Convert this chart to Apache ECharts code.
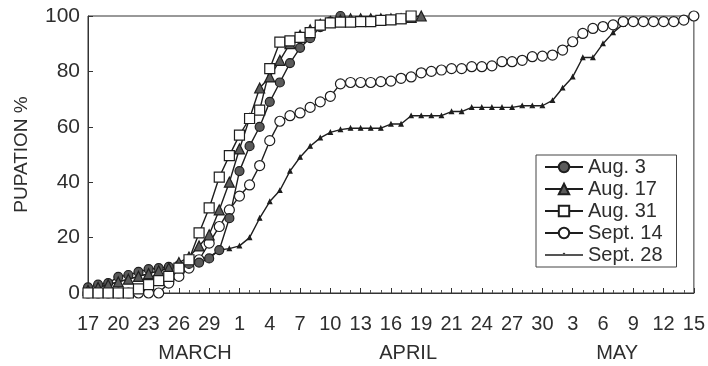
<!DOCTYPE html>
<html>
<head>
<meta charset="utf-8">
<script src="https://cdn.jsdelivr.net/npm/echarts@6/dist/echarts.min.js"></script>
<style>
  html, body { margin: 0; padding: 0; background: #fff; }
  #chart { width: 708px; height: 366px; }
</style>
</head>
<body>
<div id="chart"></div>
<script>
// Day index 0 = March 17; one slot per day, a labelled tick every third slot.
const tickLabels = ['17', '20', '23', '26', '29', '1', '4', '7', '10', '13', '16',
                    '19', '21', '24', '27', '30', '3', '6', '9', '12', '15'];
// Month captions and the day slot each is centred on.
const monthNames = ['MARCH', 'APRIL', 'MAY'];
const monthCentres = [10.6, 31.7, 52.4];

// Cumulative pupation (%) per day, starting at day 0, for each collection date.
const aug3 = [2, 3, 3.6, 5.8, 6.5, 7.6, 8.6, 9, 9.4, 10, 10.5, 11, 12.5, 15.5, 27, 44,
              53, 60, 69, 76, 83, 88.5, 92, 96, 98, 100];
const aug17 = [1, 2, 3, 4, 5, 6, 7, 8, 9, 11, 13, 17, 21, 30, 40, 52, 63, 74, 78, 84,
               90, 93, 95, 97, 98, 98.5, 99, 99, 99, 99, 99, 99, 99.5, 100];
const aug31 = [0, 0, 0, 0, 0, 1.5, 3, 4.5, 6, 9, 12, 21.7, 30.7, 41.8, 49.6, 57, 63, 66,
               81, 90.6, 91, 92.3, 94, 96.7, 97.5, 97.8, 97.8, 98, 98, 98.4, 98.6, 99, 100];
const sept14 = [0, 0, 0, 0, 0, 0, 0, 0, 3.6, 6, 9, 12, 18, 24, 30, 35, 39, 46, 55, 62,
                64, 65, 67, 69, 71, 75.5, 76, 76, 76, 76.3, 76.5, 77.5, 78, 79.5, 80, 80.5,
                81, 81, 81.7, 81.7, 82, 83.5, 83.5, 84, 85.3, 85.5, 85.9, 87.7, 90.7, 93.7,
                95.5, 96.2, 96.8, 98, 98, 98, 98, 98, 98, 98.5, 100];
const sept28 = [1, 2, 3, 4, 5, 6, 7, 8, 9, 10, 11, 12, 13, 15.5, 16, 17, 20, 27, 33, 37,
                44, 49, 53, 56, 58, 59, 59.5, 59.5, 59.5, 59.5, 61, 61, 64, 64, 64, 64,
                65.5, 65.5, 67, 67, 67, 67, 67, 67.6, 67.6, 67.6, 69.5, 74, 78, 85, 85,
                90, 94, 97, 98, 98, 98, 98, 98, 98, 100];

const ink = '#1e1e1e';
const textColor = '#2e2e2e';
const fontFamily = '"Liberation Sans", Arial, sans-serif';

const toPairs = arr => arr.map((v, i) => [i, v]);

function lineSeries(name, data, symbol, size, fill) {
  return {
    name: name,
    type: 'line',
    data: toPairs(data),
    symbol: symbol,
    symbolSize: size,
    showAllSymbol: true,
    lineStyle: { color: ink, width: 1.4 },
    itemStyle: { color: fill, borderColor: ink, borderWidth: 1.2 }
  };
}

// Legend key for the last series: a plain rule with a tiny tick mark on it.
const ruleIcon = 'path://M0,0L0,0ZM38,12L38,12ZM0,5.3L38,5.3L38,6.7L0,6.7ZM17,5.5L21,5.5L19,3.6Z';

const chart = echarts.init(document.getElementById('chart'), null, { renderer: 'canvas' });

chart.setOption({
  animation: false,
  backgroundColor: '#fff',
  textStyle: { fontFamily: fontFamily, color: textColor },
  grid: {
    left: 88, right: 8, top: 16, bottom: 73,
    show: true, borderColor: '#333', borderWidth: 1, backgroundColor: 'transparent'
  },
  legend: {
    orient: 'vertical',
    left: 536, top: 155,
    padding: [2, 14, 2, 8],
    borderColor: '#444', borderWidth: 1,
    itemWidth: 38, itemHeight: 13, itemGap: 2,
    textStyle: { fontSize: 20, lineHeight: 20, color: textColor, fontFamily: fontFamily },
    data: ['Aug. 3', 'Aug. 17', 'Aug. 31', 'Sept. 14',
           { name: 'Sept. 28', icon: ruleIcon, itemStyle: { color: ink, borderWidth: 0 } }]
  },
  xAxis: {
    type: 'value',
    min: 0, max: 60, interval: 3,
    axisLine: { lineStyle: { color: '#333', width: 1 } },
    axisTick: { inside: true, length: 5, lineStyle: { color: '#333' } },
    minorTick: { show: true, splitNumber: 3, length: 3, lineStyle: { color: '#555' } },
    splitLine: { show: false },
    axisLabel: {
      margin: 21, fontSize: 20, color: textColor, fontFamily: fontFamily,
      formatter: v => tickLabels[Math.round(v / 3)]
    }
  },
  yAxis: {
    type: 'value',
    min: 0, max: 100, interval: 20,
    name: 'PUPATION %',
    nameLocation: 'middle',
    nameGap: 57,
    nameTextStyle: { fontSize: 19, color: textColor, fontFamily: fontFamily },
    axisLine: { show: true, lineStyle: { color: '#333', width: 1 } },
    axisTick: { show: true, inside: true, length: 5, lineStyle: { color: '#333' } },
    splitLine: { show: false },
    axisLabel: { margin: 8, fontSize: 21, color: textColor, fontFamily: fontFamily }
  },
  series: [
    lineSeries('Sept. 28', sept28, 'triangle', 4, ink),
    lineSeries('Sept. 14', sept14, 'circle', 10, '#fff'),
    lineSeries('Aug. 3', aug3, 'circle', 9, '#5a5a5a'),
    lineSeries('Aug. 17', aug17, 'triangle', 10, '#5a5a5a'),
    lineSeries('Aug. 31', aug31, 'rect', 10, '#fff')
  ]
});

// Month captions under the day labels, centred on their day slots.
const captionY = chart.getHeight() - 13;
chart.setOption({
  graphic: monthNames.map((name, i) => ({
    type: 'text',
    x: chart.convertToPixel({ xAxisIndex: 0 }, monthCentres[i]),
    y: captionY,
    style: {
      text: name, fill: textColor, font: '20px ' + fontFamily,
      textAlign: 'center', textVerticalAlign: 'middle'
    }
  }))
});
</script>
</body>
</html>
